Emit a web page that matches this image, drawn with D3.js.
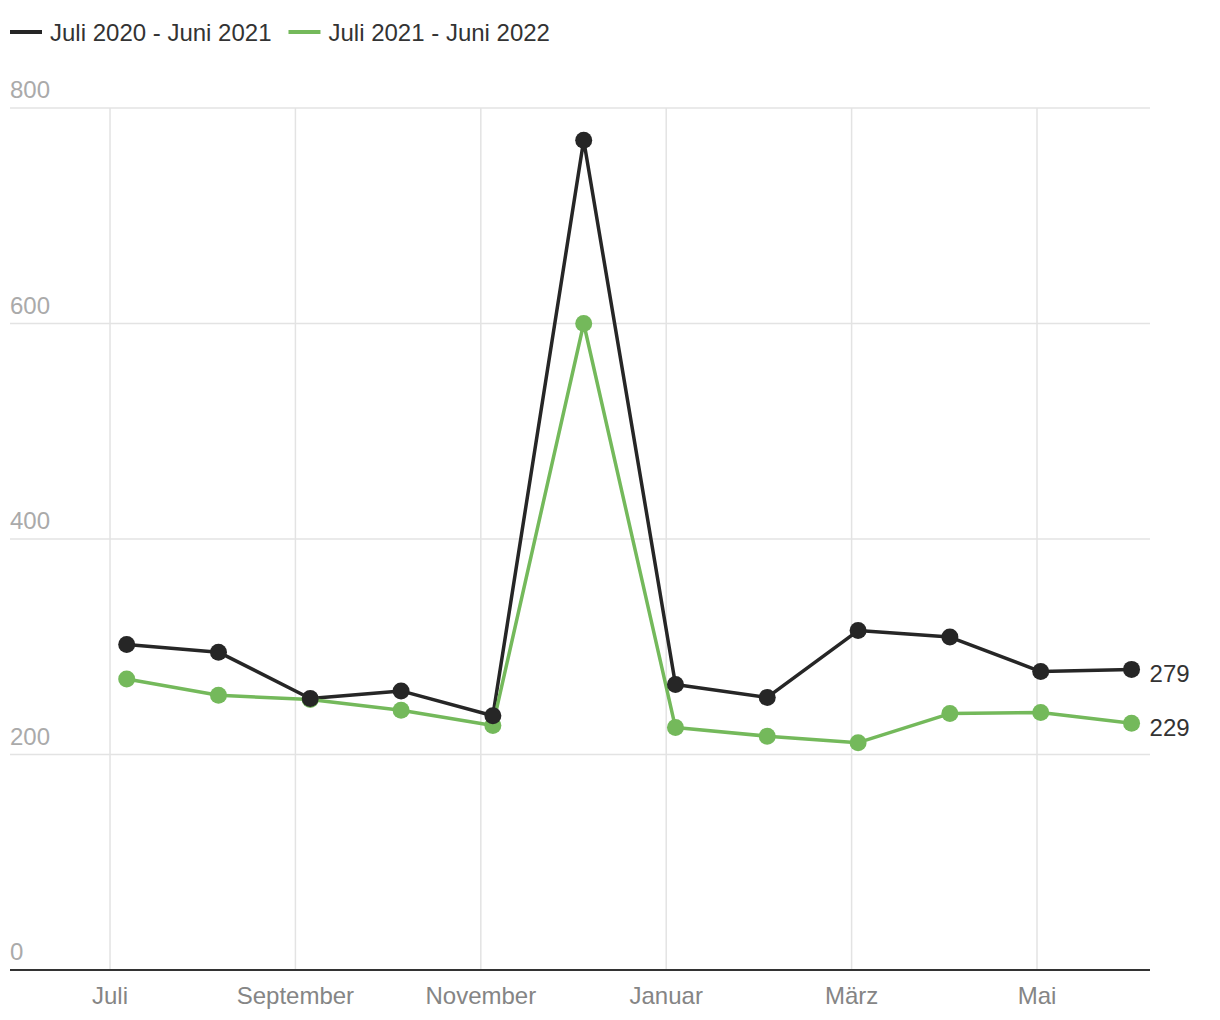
<!DOCTYPE html>
<html>
<head>
<meta charset="utf-8">
<script src="https://cdn.jsdelivr.net/npm/d3@7"></script>
<style>
  body { margin: 0; background: #fff; font-family: "Liberation Sans", Arial, sans-serif; }
</style>
</head>
<body>
<div id="chart"></div>
<script>
const svgWidth = 1220;
const svgHeight = 1020;

// data
// x position of each point in months from 1 July (axis is evenly spaced by month)
const pointMonths = [0.18, 1.17, 2.16, 3.14, 4.13, 5.11, 6.1, 7.09, 8.07, 9.06, 10.04, 11.02];
const seriesNames = ["Juli 2020 - Juni 2021", "Juli 2021 - Juni 2022"];
const series2021 = [302, 295, 252, 259, 236, 770, 265, 253, 315, 309, 277, 279];
const series2022 = [270, 255, 251, 241, 227, 600, 225, 217, 211, 238, 239, 229];
const seriesColors = ["#262626", "#74b95b"];
const yTicks = [0, 200, 400, 600, 800];
const xTickMonths = [0, 2, 4, 6, 8, 10];
const xTickLabels = ["Juli", "September", "November", "Januar", "März", "Mai"];

const margin = { top: 108, right: 70, bottom: 50, left: 10 };
const width = svgWidth - margin.left - margin.right;
const height = svgHeight - margin.top - margin.bottom;

const svg = d3.select("#chart").append("svg")
  .attr("width", svgWidth)
  .attr("height", svgHeight);

const g = svg.append("g")
  .attr("transform", `translate(${margin.left}, ${margin.top})`);

const x = d3.scaleLinear()
  .domain([-1.079, 11.219])
  .range([0, width]);

const y = d3.scaleLinear()
  .domain([0, 800])
  .range([height, 0]);

// horizontal grid
g.selectAll(".hgrid")
  .data(yTicks.filter(d => d > 0))
  .enter().append("line")
  .attr("x1", 0).attr("x2", width)
  .attr("y1", d => y(d)).attr("y2", d => y(d))
  .attr("stroke", "#e3e3e3").attr("stroke-width", 1.5);

// vertical grid
g.selectAll(".vgrid")
  .data(xTickMonths)
  .enter().append("line")
  .attr("x1", d => x(d)).attr("x2", d => x(d))
  .attr("y1", 0).attr("y2", height)
  .attr("stroke", "#e3e3e3").attr("stroke-width", 1.5);

g.selectAll(".ylabel")
  .data(yTicks)
  .enter().append("text")
  .attr("x", 0)
  .attr("y", d => y(d) - 10)
  .attr("fill", "#aaaaaa")
  .attr("font-size", 24)
  .text(d => d);

// x axis baseline and labels
g.append("line")
  .attr("x1", 0).attr("x2", width)
  .attr("y1", height).attr("y2", height)
  .attr("stroke", "#333").attr("stroke-width", 2);

g.selectAll(".xlabel")
  .data(xTickMonths)
  .enter().append("text")
  .attr("x", d => x(d))
  .attr("y", height + 34)
  .attr("text-anchor", "middle")
  .attr("fill", "#858585")
  .attr("font-size", 24)
  .text((d, i) => xTickLabels[i]);

// lines and dots
const allSeries = [series2021, series2022];
const line = d3.line()
  .x((d, i) => x(pointMonths[i]))
  .y(d => y(d));

allSeries.forEach((vals, k) => {
  g.append("path")
    .datum(vals)
    .attr("fill", "none")
    .attr("stroke", seriesColors[k])
    .attr("stroke-width", 3.5)
    .attr("stroke-linejoin", "round")
    .attr("d", line);
});

// green dots first, black ones on top
[1, 0].forEach(k => {
  g.selectAll(".dot" + k)
    .data(allSeries[k])
    .enter().append("circle")
    .attr("cx", (d, i) => x(pointMonths[i]))
    .attr("cy", d => y(d))
    .attr("r", 8.5)
    .attr("fill", seriesColors[k]);
});

// end value labels
allSeries.forEach((vals, k) => {
  const last = vals.length - 1;
  g.append("text")
    .attr("x", x(pointMonths[last]) + 18)
    .attr("y", y(vals[last]) + 13)
    .attr("fill", "#333")
    .attr("font-size", 24)
    .text(vals[last]);
});

// legend
const legend = svg.append("g").attr("transform", "translate(10, 32)");
let lx = 0;
seriesNames.forEach((name, k) => {
  const item = legend.append("g").attr("transform", `translate(${lx}, 0)`);
  item.append("line")
    .attr("x1", 0).attr("x2", 32)
    .attr("y1", 0).attr("y2", 0)
    .attr("stroke", seriesColors[k]).attr("stroke-width", 4);
  const t = item.append("text")
    .attr("x", 40).attr("y", 8.5)
    .attr("fill", "#333")
    .attr("font-size", 24)
    .text(name);
  lx += 40 + t.node().getComputedTextLength() + 17;
});
</script>
</body>
</html>
